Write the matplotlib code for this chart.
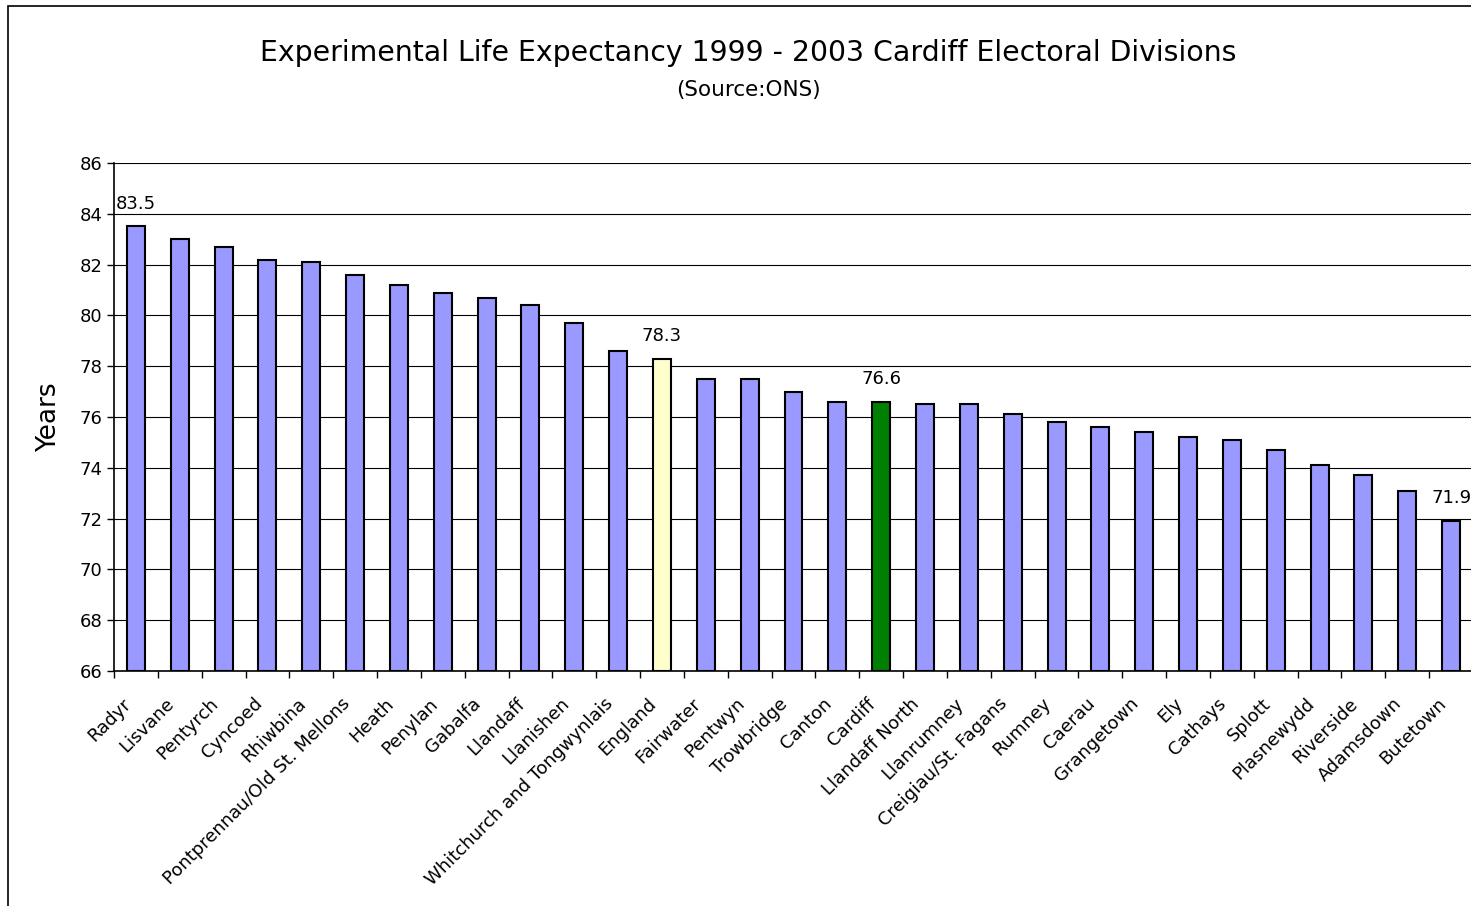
import numpy as np
import matplotlib
matplotlib.use("Agg")
import matplotlib.pyplot as plt
from matplotlib.patches import Rectangle

divisions = [
    "Radyr", "Lisvane", "Pentyrch", "Cyncoed", "Rhiwbina",
    "Pontprennau/Old St. Mellons", "Heath", "Penylan", "Gabalfa", "Llandaff",
    "Llanishen", "Whitchurch and Tongwynlais", "England", "Fairwater",
    "Pentwyn", "Trowbridge", "Canton", "Cardiff", "Llandaff North",
    "Llanrumney", "Creigiau/St. Fagans", "Rumney", "Caerau", "Grangetown",
    "Ely", "Cathays", "Splott", "Plasnewydd", "Riverside", "Adamsdown",
    "Butetown",
]
life_expectancy = [
    83.5, 83.0, 82.7, 82.2, 82.1,
    81.6, 81.2, 80.9, 80.7, 80.4,
    79.7, 78.6, 78.3, 77.5,
    77.5, 77.0, 76.6, 76.6, 76.5,
    76.5, 76.1, 75.8, 75.6, 75.4,
    75.2, 75.1, 74.7, 74.1, 73.7, 73.1,
    71.9,
]
labelled = ["Radyr", "England", "Cardiff", "Butetown"]

plt.rcParams['font.family'] = ['DejaVu Sans']

fig = plt.figure(figsize=(14.71, 9.06), dpi=100)
fig.patches.append(Rectangle((8 / 1471, -0.01), 1.0, 1 - 6 / 906 + 0.01,
                             transform=fig.transFigure, fill=False,
                             edgecolor='black', linewidth=1.2))

ax = fig.add_axes([114 / 1471, 1 - 671 / 906, 1359 / 1471, 508 / 906])

colors = []
for name in divisions:
    if name == "England":
        colors.append('#FFFFCC')
    elif name == "Cardiff":
        colors.append('#008000')
    else:
        colors.append('#9999FF')

x = np.arange(len(divisions))
ax.bar(x, np.array(life_expectancy) - 66, bottom=66, width=0.41,
       color=colors, edgecolor='black', linewidth=1.5, zorder=3)

for i, (name, val) in enumerate(zip(divisions, life_expectancy)):
    if name in labelled:
        ax.annotate(f"{val:.1f}", (i, val), xytext=(0, 10),
                    textcoords='offset points', ha='center', va='bottom',
                    fontsize=13)

ax.set_xlim(-0.5, len(divisions) - 0.5)
ax.set_ylim(66, 86)
ax.set_yticks(np.arange(66, 87, 2))
ax.yaxis.grid(True, color='black', linewidth=0.8, zorder=0)
ax.tick_params(axis='y', labelsize=13, length=5, width=1, direction='out')

# labels anchored a little left of each bar centre, like the Excel original
ax.set_xticks(x - 0.33)
ax.set_xticklabels(divisions, rotation=45, ha='right', va='top',
                   rotation_mode='anchor', fontsize=13)
ax.set_xticks(np.arange(-0.5, len(divisions), 1), minor=True)
ax.tick_params(axis='x', which='major', length=0, pad=17)
ax.tick_params(axis='x', which='minor', length=5, width=1, direction='out')

for side in ['top', 'right']:
    ax.spines[side].set_visible(False)
ax.spines['left'].set_color('black')
ax.spines['bottom'].set_color('black')
ax.spines['left'].set_linewidth(1.2)
ax.spines['bottom'].set_linewidth(1.2)

ax.set_ylabel("Years", fontsize=19, labelpad=12)

fig.text(748 / 1471, 1 - 53 / 906,
         "Experimental Life Expectancy 1999 - 2003 Cardiff Electoral Divisions",
         ha='center', va='center', fontsize=20.4)
fig.text(748 / 1471, 1 - 90 / 906, "(Source:ONS)",
         ha='center', va='center', fontsize=15.5)

fig.savefig("out.png", dpi=100)
